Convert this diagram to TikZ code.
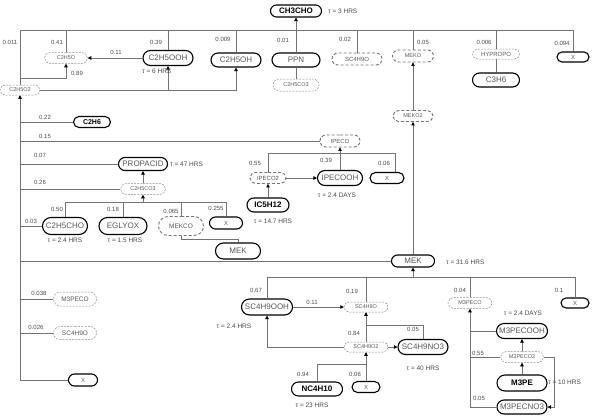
\documentclass[tikz,border=0pt]{standalone}
\usepackage{fontspec}
\setmainfont{Liberation Sans}
\usetikzlibrary{shapes.misc,arrows.meta}
\begin{document}
\begin{tikzpicture}[x=1pt,y=-1pt,
  mol/.style={rounded rectangle,draw=black,line width=1.1pt,inner sep=0pt,text=black!65,font=\fontsize{8}{9}\selectfont},
  keymol/.style={mol,text=black,font=\fontsize{8}{9}\selectfont\bfseries},
  rad/.style={rounded rectangle,draw=black!45,line width=0.5pt,dash pattern=on 2pt off 1.2pt,inner sep=0pt,text=black!65,font=\fontsize{5.5}{6}\selectfont},
  radb/.style={rounded rectangle,draw=black!55,line width=0.9pt,dash pattern=on 3pt off 2pt,inner sep=0pt,text=black!65,font=\fontsize{6}{7}\selectfont},
  ln/.style={draw=black!55,line width=0.6pt},
  arr/.style={ln,-{Triangle[length=3.5pt,width=3.5pt,color=black]}},
  lab/.style={text=black!70,font=\fontsize{6}{7}\selectfont,inner sep=0pt},
  tau/.style={text=black!70,font=\fontsize{6.5}{7}\selectfont,inner sep=0pt}]
\useasboundingbox[fill=white] (0,0) rectangle (593,415);

% ---- nodes ----
\node[keymol,minimum width=51pt,minimum height=12pt] (ch3cho) at (296,11) {CH3CHO};
\node[mol,minimum width=50pt,minimum height=15pt] (c2h5ooh) at (168,58) {C2H5OOH};
\node[mol,minimum width=50pt,minimum height=14pt] (c2h5oh) at (236,60) {C2H5OH};
\node[mol,minimum width=48pt,minimum height=14pt] (ppn) at (296,60) {PPN};
\node[mol,minimum width=47pt,minimum height=14pt] (c3h6) at (496,80) {C3H6};
\node[mol,minimum width=32pt,minimum height=10pt,font=\fontsize{6}{7}\selectfont] (xtr) at (573,57) {X};
\node[keymol,minimum width=37pt,minimum height=11pt,font=\fontsize{7}{8}\selectfont\bfseries] (c2h6) at (92,122) {C2H6};
\node[mol,minimum width=49pt,minimum height=13pt] (propacid) at (143,164) {PROPACID};
\node[mol,minimum width=45pt,minimum height=15pt] (ipecooh) at (340,178) {IPECOOH};
\node[keymol,minimum width=42pt,minimum height=14pt] (ic5h12) at (268,205) {IC5H12};
\node[mol,minimum width=34pt,minimum height=11pt,font=\fontsize{6}{7}\selectfont] (xi) at (387,178) {X};
\node[mol,minimum width=45pt,minimum height=17pt] (c2h5cho) at (65,226) {C2H5CHO};
\node[mol,minimum width=48pt,minimum height=17pt] (eglyox) at (123,226) {EGLYOX};
\node[mol,minimum width=33pt,minimum height=12pt,font=\fontsize{6}{7}\selectfont] (xm) at (226,223) {X};
\node[mol,minimum width=45pt,minimum height=16pt] (mek) at (238,251) {MEK};
\node[mol,minimum width=43pt,minimum height=12pt] (mekr) at (413,261) {MEK};
\node[mol,minimum width=51pt,minimum height=16pt] (sc4h9ooh) at (267,307) {SC4H9OOH};
\node[mol,minimum width=50pt,minimum height=15pt] (sc4h9no3) at (423,347) {SC4H9NO3};
\node[keymol,minimum width=51pt,minimum height=14pt] (nc4h10) at (317,389) {NC4H10};
\node[mol,minimum width=28pt,minimum height=11pt,font=\fontsize{6}{7}\selectfont] (xn) at (366,387) {X};
\node[mol,minimum width=51pt,minimum height=15pt] (m3pecooh) at (522,331) {M3PECOOH};
\node[keymol,minimum width=50pt,minimum height=16pt] (m3pe) at (522,383) {M3PE};
\node[mol,minimum width=50pt,minimum height=14pt] (m3pecno3) at (522,407) {M3PECNO3};
\node[mol,minimum width=29pt,minimum height=12pt,font=\fontsize{6}{7}\selectfont] (xbl) at (83,380) {X};
\node[mol,minimum width=28pt,minimum height=10pt,font=\fontsize{6}{7}\selectfont] (xr) at (575,303) {X};

\node[rad,minimum width=43pt,minimum height=11pt] (c2h5o) at (66,58) {C2H5O};
\node[rad,minimum width=40pt,minimum height=10pt] (c2h5o2) at (20,90) {C2H5O2};
\node[radb,minimum width=50pt,minimum height=12pt] (sc4h9ot) at (357,59) {SC4H9O};
\node[rad,minimum width=46pt,minimum height=12pt] (c2h5co3a) at (296,85) {C2H5CO3};
\node[radb,minimum width=41pt,minimum height=12pt,font=\fontsize{5.5}{6}\selectfont] (meko) at (413,56) {MEKO};
\node[rad,minimum width=47pt,minimum height=10pt,font=\fontsize{6}{7}\selectfont] (hypropo) at (496,54) {HYPROPO};
\node[radb,minimum width=40pt,minimum height=11pt,font=\fontsize{5.5}{6}\selectfont] (meko2) at (413,116) {MEKO2};
\node[radb,minimum width=40pt,minimum height=12pt] (ipeco) at (340,141) {IPECO};
\node[radb,minimum width=36pt,minimum height=11pt] (ipeco2) at (268,178) {IPECO2};
\node[rad,minimum width=45pt,minimum height=11pt] (c2h5co3b) at (143,189) {C2H5CO3};
\node[radb,minimum width=45pt,minimum height=19pt,font=\fontsize{6.5}{7}\selectfont] (mekco) at (181,226) {MEKCO};
\node[rad,minimum width=43pt,minimum height=14pt,font=\fontsize{6.5}{7}\selectfont] (m3pecol) at (75,299) {M3PECO};
\node[rad,minimum width=43pt,minimum height=13pt,font=\fontsize{6.5}{7}\selectfont] (sc4h9ol) at (75,333) {SC4H9O};
\node[rad,minimum width=44pt,minimum height=10pt] (sc4h9o) at (366,307) {SC4H9O};
\node[rad,minimum width=44pt,minimum height=10pt] (sc4h9o2) at (366,347) {SC4H9O2};
\node[rad,minimum width=44pt,minimum height=11pt] (m3pecor) at (470,303) {M3PECO};
\node[rad,minimum width=43pt,minimum height=11pt] (m3peco2) at (522,357) {M3PECO2};

% ---- junction levels ----
\coordinate (T) at (0,30);
\coordinate (J1) at (0,78);
\coordinate (J2) at (0,153);
\coordinate (J3) at (0,202);
\coordinate (J4) at (0,239);
\coordinate (J5) at (0,277);
\coordinate (J6) at (0,325);
\coordinate (J7) at (0,364);
\coordinate (J8) at (554,0);
\coordinate (JX) at (395,0);

% ---- top bar ----
\draw[ln] (c2h5o2.north) -- (c2h5o2.north |- T) -| (xtr.north);
\draw[ln] (c2h5o.north) -- (c2h5o.north |- T);
\draw[ln] (c2h5ooh.north) -- (c2h5ooh.north |- T);
\draw[ln] (c2h5oh.north) -- (c2h5oh.north |- T);
\draw[ln] (sc4h9ot.north) -- (sc4h9ot.north |- T);
\draw[ln] (meko.north) -- (meko.north |- T);
\draw[ln] (hypropo.north) -- (hypropo.north |- T);
\draw[arr] (ppn.north) -- (ch3cho.south);
\draw[ln] (ppn.south) -- (c2h5co3a.north);
\draw[ln] (hypropo.south) -- (c3h6.north);
\draw[arr] (c2h5ooh.west) -- (c2h5o.east);
\draw[arr] (c2h5o2.north |- J1) -| (c2h5o.south);
\draw[arr] (c2h5o2.east) -| (c2h5oh.south);
\draw[arr] (c2h5ooh.south |- c2h5o2.east) -- (c2h5ooh.south);
\draw[arr] (meko2.north) -- (meko.south);
\draw[arr] (mekr.north) -- (meko2.south);

% ---- left trunk ----
\draw[arr] (xbl.west) -| (c2h5o2.south);
\draw[ln] (c2h5o2.south |- c2h6.west) -- (c2h6.west);
\draw[ln] (c2h5o2.south |- ipeco.west) -- (ipeco.west);
\draw[ln] (c2h5o2.south |- propacid.west) -- (propacid.west);
\draw[ln] (c2h5o2.south |- c2h5co3b.west) -- (c2h5co3b.west);
\draw[ln] (c2h5o2.south |- c2h5cho.west) -- (c2h5cho.west);
\draw[ln] (c2h5o2.south |- mekr.west) -- (mekr.west);
\draw[ln] (c2h5o2.south |- m3pecol.west) -- (m3pecol.west);
\draw[ln] (c2h5o2.south |- sc4h9ol.west) -- (sc4h9ol.west);

% ---- IC5H12 ----
\draw[arr] (ipecooh.north) -- (ipeco.south);
\draw[ln] (ipeco2.north) |- (ipecooh.north |- J2);
\draw[ln] (ipecooh.north |- J2) -| (JX |- xi.north);
\draw[arr] (ipeco2.east) -- (ipecooh.west);
\draw[arr] (ic5h12.north) -- (ipeco2.south);

% ---- C2H5CO3 group ----
\draw[arr] (c2h5co3b.north) -- (propacid.south);
\draw[ln] (c2h5cho.north) |- (J3 -| xm.north) -- (xm.north);
\draw[ln] (eglyox.north) -- (eglyox.north |- J3);
\draw[ln] (mekco.north) -- (mekco.north |- J3);
\draw[arr] (c2h5co3b.south |- J3) -- (c2h5co3b.south);
\draw[ln] (mekco.south) |- (J4 -| mek.north) -- (mek.north);

% ---- MEK lower ----
\draw[arr] (mekr.south |- J5) -- (mekr.south);
\draw[ln] (sc4h9ooh.north) |- (J5 -| xr.north) -- (xr.north);
\draw[ln] (sc4h9o.north) -- (sc4h9o.north |- J5);
\draw[ln] (m3pecor.north) -- (m3pecor.north |- J5);
\draw[arr] (sc4h9ooh.east) -- (sc4h9o.west);
\draw[arr] (sc4h9o2.north) -- (sc4h9o.south);
\draw[ln] (sc4h9o2.north |- J6) -| (sc4h9no3.north);
\draw[arr] (sc4h9o2.east) -- (sc4h9no3.west);
\draw[arr] (sc4h9o2.west) -| (sc4h9ooh.south);
\draw[ln] (nc4h10.north) |- (J7 -| xn.north);
\draw[arr] (xn.north) -- (sc4h9o2.south);

% ---- M3PE ----
\draw[arr] (m3pe.north) -- (m3peco2.south);
\draw[arr] (m3peco2.north) -- (m3pecooh.south);
\draw[arr] (m3pecno3.west) -| (m3pecor.south);
\draw[ln] (m3pecooh.west) -- (m3pecor.south |- m3pecooh.west);
\draw[ln] (m3peco2.west) -- (m3pecor.south |- m3peco2.west);
\draw[arr] (m3peco2.east) -| (J8 |- m3pecno3.east) -- (m3pecno3.east);

% ---- labels ----
\node[tau,anchor=west] (t1) at (328,11) {τ = 3 HRS};
\node[tau,anchor=west] (t2) at (142,71) {τ = 6 HRS};
\node[tau,anchor=west] (t3) at (170,164) {τ = 47 HRS};
\node[tau] (t4) at (337,195) {τ = 2.4 DAYS};
\node[tau] (t5) at (273,221) {τ = 14.7 HRS};
\node[tau] (t6) at (65,240) {τ = 2.4 HRS};
\node[tau] (t7) at (125,240) {τ = 1.5 HRS};
\node[tau,anchor=west] (t8) at (446,262) {τ = 31.6 HRS};
\node[tau] (t9) at (234,326) {τ = 2.4 HRS};
\node[tau] (t10) at (423,368) {τ = 40 HRS};
\node[tau] (t11) at (312,405) {τ = 23 HRS};
\node[tau] (t12) at (523,313) {τ = 2.4 DAYS};
\node[tau,anchor=west] (t13) at (548,382) {τ = 10 HRS};

\node[lab] (l1) at (10,42) {0.011};
\node[lab] (l2) at (57,42) {0.41};
\node[lab] (l3) at (156,42) {0.39};
\node[lab] (l4) at (223,39) {0.009};
\node[lab] (l5) at (283,40) {0.01};
\node[lab] (l6) at (345,39) {0.02};
\node[lab] (l7) at (423,42) {0.05};
\node[lab] (l8) at (484,42) {0.006};
\node[lab] (l9) at (562,43) {0.094};
\node[lab] (l10) at (116,52) {0.11};
\node[lab] (l11) at (77,73) {0.89};
\node[lab] (l12) at (45,117) {0.22};
\node[lab] (l13) at (45,136) {0.15};
\node[lab] (l14) at (40,155) {0.07};
\node[lab] (l15) at (40,182) {0.26};
\node[lab] (l16) at (31,221) {0.03};
\node[lab] (l17) at (57,209) {0.50};
\node[lab] (l18) at (113,209) {0.18};
\node[lab] (l19) at (171,211) {0.065};
\node[lab] (l20) at (216,208) {0.255};
\node[lab] (l21) at (255,163) {0.55};
\node[lab] (l22) at (326,160) {0.39};
\node[lab] (l23) at (384,163) {0.06};
\node[lab] (l24) at (256,290) {0.67};
\node[lab] (l25) at (312,302) {0.11};
\node[lab] (l26) at (352,291) {0.19};
\node[lab] (l27) at (354,333) {0.84};
\node[lab] (l28) at (413,329) {0.05};
\node[lab] (l29) at (303,374) {0.94};
\node[lab] (l30) at (355,374) {0.06};
\node[lab] (l31) at (460,290) {0.04};
\node[lab] (l32) at (559,290) {0.1};
\node[lab] (l33) at (478,353) {0.55};
\node[lab] (l34) at (479,398) {0.05};
\node[lab] (l35) at (39,293) {0.038};
\node[lab] (l36) at (36,327) {0.026};
\end{tikzpicture}
\end{document}
